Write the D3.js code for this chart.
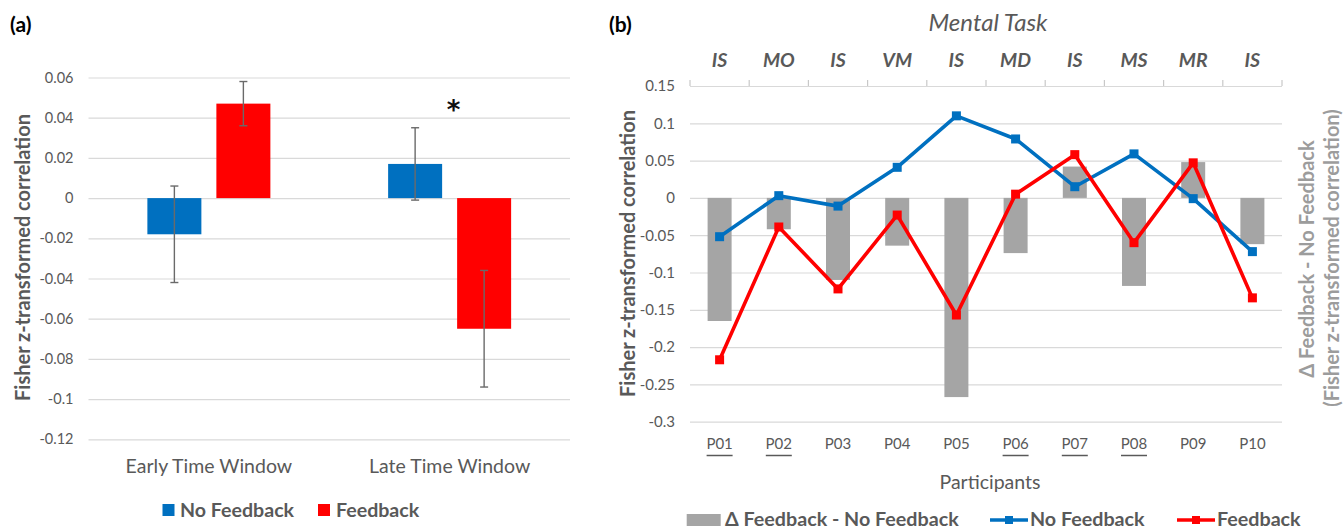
<!DOCTYPE html>
<html><head><meta charset="utf-8">
<script src="https://cdn.jsdelivr.net/npm/d3@7"></script>
<style>
body{margin:0;background:#fff}
svg{display:block}
text{font-family:Lato,"Open Sans",sans-serif}
</style>
</head><body>
<svg id="c" width="1344" height="529"></svg>
<script>
// ---------- Panel (a) data ----------
const windows = ["Early Time Window", "Late Time Window"];
const seriesNames = ["No Feedback", "Feedback"];
const noFeedbackMean = [-0.018, 0.017];
const noFeedbackErr = [0.024, 0.018];
const feedbackMean = [0.047, -0.065];
const feedbackErr = [0.011, 0.029];
const aTicks = [0.06, 0.04, 0.02, 0, -0.02, -0.04, -0.06, -0.08, -0.1, -0.12];
const aTickLabels = ["0.06", "0.04", "0.02", "0", "-0.02", "-0.04", "-0.06", "-0.08", "-0.1", "-0.12"];
const significant = ["Late Time Window"];

// ---------- Panel (b) data ----------
const participants = ["P01", "P02", "P03", "P04", "P05", "P06", "P07", "P08", "P09", "P10"];
const underlinedParticipants = ["P01", "P02", "P06", "P07", "P08"];
const mentalTasks = ["IS", "MO", "IS", "VM", "IS", "MD", "IS", "MS", "MR", "IS"];
const noFeedbackB = [-0.052, 0.003, -0.011, 0.041, 0.110, 0.079, 0.015, 0.059, -0.001, -0.072];
const feedbackB = [-0.217, -0.039, -0.122, -0.023, -0.157, 0.005, 0.058, -0.060, 0.047, -0.134];
const deltaB = [-0.165, -0.042, -0.110, -0.064, -0.267, -0.074, 0.042, -0.118, 0.048, -0.062];
const bTicks = [0.15, 0.1, 0.05, 0, -0.05, -0.1, -0.15, -0.2, -0.25, -0.3];
const bTickLabels = ["0.15", "0.1", "0.05", "0", "-0.05", "-0.1", "-0.15", "-0.2", "-0.25", "-0.3"];
const bLegendNames = ["\u0394 Feedback - No Feedback", "No Feedback", "Feedback"];

// ---------- styles ----------
const BLUE = "#0070C0", RED = "#FF0000", GRAY = "#A5A5A5";
const TXT = "#595959", GRID = "#D9D9D9";

const svg = d3.select("#c");

// ================= PANEL (a) =================
const ga = svg.append("g");
const xa = d3.scaleBand().domain(windows).range([88.5, 570]);
const ya = d3.scaleLinear().domain([-0.12, 0.06]).range([439.3, 77.5]);

const yAxisA = d3.axisLeft(ya).tickValues(aTicks)
  .tickFormat((d, i) => aTickLabels[i])
  .tickSize(-(570 - 88.5)).tickPadding(15);
ga.append("g").attr("transform", "translate(88.5,0)").call(yAxisA)
  .call(g => g.select(".domain").remove())
  .call(g => g.selectAll(".tick line").attr("stroke", GRID).attr("stroke-width", 1.2))
  .call(g => g.selectAll(".tick text").attr("fill", TXT).style("font-size", "14.5px"));

const xAxisA = d3.axisBottom(xa).tickSize(0).tickPadding(0);
ga.append("g").attr("transform", "translate(0,473)").call(xAxisA)
  .call(g => g.select(".domain").remove())
  .call(g => g.selectAll(".tick text").attr("dy", 0).attr("y", 0).attr("fill", TXT).style("font-size", "19.5px"));

const barW = 54, barGap = 15;
const aData = windows.map((w, i) => ({w, vals: [
  {s: 0, m: noFeedbackMean[i], e: noFeedbackErr[i]},
  {s: 1, m: feedbackMean[i], e: feedbackErr[i]}]}));
const colorsA = [BLUE, RED];
aData.forEach(d => {
  const cx = xa(d.w) + xa.bandwidth() / 2;
  d.vals.forEach(v => {
    const x0 = v.s === 0 ? cx - barGap / 2 - barW : cx + barGap / 2;
    ga.append("rect").attr("x", x0).attr("width", barW)
      .attr("y", ya(Math.max(0, v.m))).attr("height", Math.abs(ya(v.m) - ya(0)))
      .attr("fill", colorsA[v.s]);
  });
  d.vals.forEach(v => {
    const x0 = v.s === 0 ? cx - barGap / 2 - barW : cx + barGap / 2;
    const bx = x0 + barW / 2;
    const eg = ga.append("g").attr("stroke", "#6a6a6a").attr("stroke-width", 1.4);
    eg.append("line").attr("x1", bx).attr("x2", bx).attr("y1", ya(v.m + v.e)).attr("y2", ya(v.m - v.e));
    [v.m + v.e, v.m - v.e].forEach(t => eg.append("line").attr("x1", bx - 4).attr("x2", bx + 4).attr("y1", ya(t)).attr("y2", ya(t)));
  });
});
significant.forEach(w => {
  ga.append("text").attr("x", xa(w) + xa.bandwidth() / 2 + 4).attr("y", 101)
    .attr("text-anchor", "middle").attr("dominant-baseline", "central")
    .style("font-family", "'DejaVu Sans'").attr("font-weight", "bold").style("font-size", "26px")
    .attr("dy", "0.35em").attr("fill", "#111").text("*");
});

ga.append("text").attr("transform", "translate(22,257.5) rotate(-90)")
  .attr("text-anchor", "middle").attr("dominant-baseline", "central")
  .attr("font-weight", "bold").style("font-size", "20px").attr("fill", TXT)
  .text("Fisher z-transformed correlation");

ga.append("text").attr("x", 10).attr("y", 32).attr("font-weight", "bold").style("font-size", "21px").attr("fill", "#000").text("(a)");

// legend (a)
const legA = [[162.5, 180], [318, 336]];
seriesNames.forEach((n, i) => {
  ga.append("rect").attr("x", legA[i][0]).attr("y", 504).attr("width", 12).attr("height", 12).attr("fill", colorsA[i]);
  ga.append("text").attr("x", legA[i][1]).attr("y", 516.7).attr("font-weight", "bold").style("font-size", "19.6px").attr("fill", TXT).text(n);
});

// ================= PANEL (b) =================
const gb = svg.append("g");
const xb = d3.scaleBand().domain(participants).range([690, 1282]);
const yb = d3.scaleLinear().domain([-0.3, 0.15]).range([421.7, 86]);
const bw = xb.bandwidth();
const cxb = p => xb(p) + bw / 2;

const yAxisB = d3.axisLeft(yb).tickValues(bTicks)
  .tickFormat((d, i) => bTickLabels[i])
  .tickSize(-(1282 - 690)).tickPadding(15);
gb.append("g").attr("transform", "translate(690,0)").call(yAxisB)
  .call(g => g.select(".domain").remove())
  .call(g => g.selectAll(".tick line").attr("stroke", GRID).attr("stroke-width", 1.2))
  .call(g => g.selectAll(".tick text").attr("fill", TXT).style("font-size", "15px"));

// top task axis: tick marks at band boundaries
const bounds = participants.map(p => xb(p)).concat([xb.range()[1]]);
gb.selectAll(".tt").data(bounds).enter().append("line")
  .attr("x1", d => d).attr("x2", d => d).attr("y1", yb(0.15)).attr("y2", yb(0.15) - 6)
  .attr("stroke", "#C8C8C8").attr("stroke-width", 1.2);
gb.selectAll(".task").data(mentalTasks).enter().append("text")
  .attr("x", (d, i) => cxb(participants[i])).attr("y", 59)
  .attr("text-anchor", "middle").attr("dominant-baseline", "central")
  .attr("font-weight", "bold").attr("font-style", "italic").style("font-size", "19.5px").attr("fill", TXT)
  .text(d => d);
gb.append("text").attr("x", 988).attr("y", 31).attr("text-anchor", "middle")
  .attr("font-style", "italic").style("font-size", "24px").attr("fill", TXT).text("Mental Task");

// delta bars
const dBarW = 24;
gb.selectAll(".db").data(deltaB).enter().append("rect")
  .attr("x", (d, i) => cxb(participants[i]) - dBarW / 2).attr("width", dBarW)
  .attr("y", d => yb(Math.max(0, d))).attr("height", d => Math.abs(yb(d) - yb(0)))
  .attr("fill", GRAY);

// lines
const lineGen = d3.line().x((d, i) => cxb(participants[i])).y(d => yb(d));
[[noFeedbackB, BLUE], [feedbackB, RED]].forEach(([arr, col]) => {
  gb.append("path").attr("d", lineGen(arr)).attr("fill", "none").attr("stroke", col)
    .attr("stroke-width", 3.6).attr("stroke-linejoin", "round");
  gb.selectAll(null).data(arr).enter().append("rect")
    .attr("x", (d, i) => cxb(participants[i]) - 4.5).attr("y", d => yb(d) - 4.5)
    .attr("width", 9).attr("height", 9).attr("fill", col);
});

// bottom labels
const xAxisB = d3.axisBottom(xb).tickSize(0).tickPadding(0);
gb.append("g").attr("transform", "translate(0,449.3)").call(xAxisB)
  .call(g => g.select(".domain").remove())
  .call(g => g.selectAll(".tick text").attr("dy", 0).attr("y", 0).attr("fill", TXT).style("font-size", "15px"));
gb.selectAll(".ul").data(underlinedParticipants).enter().append("line")
  .attr("x1", d => cxb(d) - 13).attr("x2", d => cxb(d) + 13).attr("y1", 455.5).attr("y2", 455.5)
  .attr("stroke", TXT).attr("stroke-width", 1.5);
gb.append("text").attr("x", 990).attr("y", 488.5).attr("text-anchor", "middle")
  .style("font-size", "19.5px").attr("fill", TXT).text("Participants");

// axis titles
gb.append("text").attr("transform", "translate(627,253.5) rotate(-90)")
  .attr("text-anchor", "middle").attr("dominant-baseline", "central")
  .attr("font-weight", "bold").style("font-size", "20px").attr("fill", TXT)
  .text("Fisher z-transformed correlation");
gb.append("text").attr("transform", "translate(1306,259) rotate(-90)")
  .attr("text-anchor", "middle").attr("dominant-baseline", "central")
  .attr("font-weight", "bold").style("font-size", "20px").attr("fill", "#9C9C9C")
  .text("\u0394 Feedback - No Feedback");
gb.append("text").attr("transform", "translate(1331,258) rotate(-90)")
  .attr("text-anchor", "middle").attr("dominant-baseline", "central")
  .attr("font-weight", "bold").style("font-size", "20px").attr("fill", "#9C9C9C")
  .text("(Fisher z-transformed correlation)");

gb.append("text").attr("x", 609).attr("y", 32).attr("font-weight", "bold").style("font-size", "21px").attr("fill", "#000").text("(b)");

// legend (b)
gb.append("rect").attr("x", 686.7).attr("y", 514).attr("width", 34).attr("height", 12).attr("fill", GRAY);
gb.append("text").attr("x", 725).attr("y", 525.7).attr("font-weight", "bold").style("font-size", "19.7px").attr("fill", TXT).text(bLegendNames[0]);
[[990, 1028, BLUE, 1030, bLegendNames[1]], [1177, 1215, RED, 1217, bLegendNames[2]]].forEach(([a, b, col, tx, name]) => {
  gb.append("line").attr("x1", a).attr("x2", b).attr("y1", 520).attr("y2", 520).attr("stroke", col).attr("stroke-width", 3.6);
  gb.append("rect").attr("x", (a + b) / 2 - 4).attr("y", 516).attr("width", 8).attr("height", 8).attr("fill", col);
  gb.append("text").attr("x", tx).attr("y", 525.7).attr("font-weight", "bold").style("font-size", "19.7px").attr("fill", TXT).text(name);
});
</script>
</body></html>
